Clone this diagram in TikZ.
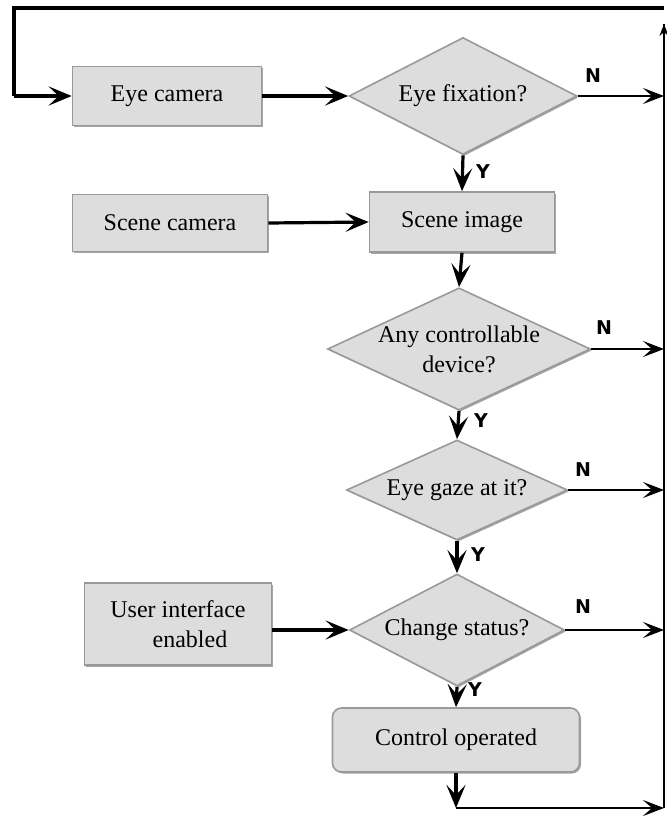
\documentclass[tikz,border=0pt]{standalone}
\usepackage{fontspec}
\setmainfont{Liberation Serif}
\newfontfamily\lblfont{DejaVu Sans}
\usetikzlibrary{shapes.geometric,arrows.meta,shadows}
\definecolor{boxfill}{HTML}{DDDDDD}
\definecolor{boxline}{HTML}{999999}
\begin{document}
\begin{tikzpicture}[x=1pt,y=-1pt,
  base/.style={draw=boxline, line width=1.6pt, fill=boxfill, align=center,
    font=\fontsize{24}{30}\selectfont, inner sep=0pt,
    drop shadow={shadow xshift=1.5pt, shadow yshift=-1.5pt, fill=gray!70, opacity=1}},
  box/.style={base, rectangle},
  rbox/.style={base, rectangle, rounded corners=9pt},
  dec/.style={base, diamond},
  arr/.style={line width=3.2pt, -{Stealth[length=23pt,width=19pt,inset=10pt]}},
  narr/.style={line width=2.6pt, -{Stealth[length=21pt,width=16pt,inset=9pt]}},
  lbl/.style={font=\fontsize{19}{19}\lblfont\bfseries\selectfont, inner sep=0pt},
]
\useasboundingbox (0,0) rectangle (667,820);

% nodes
\node[box, minimum width=189pt, minimum height=59pt] (ec) at (167,96) {Eye camera};
\node[dec, aspect=2, minimum width=228pt, minimum height=117pt] (fix) at (463,96) {Eye fixation?};
\node[box, minimum width=195pt, minimum height=57pt] (sc) at (170,223) {Scene camera};
\node[box, minimum width=185pt, minimum height=60pt] (si) at (462,222) {Scene image};
\node[dec, aspect=2.15, minimum width=252pt, minimum height=118pt] (dev) at (459,349) {Any controllable\\device?};
\node[dec, aspect=2.2, minimum width=221pt, minimum height=100pt] (gaze) at (457,490) {Eye gaze at it?};
\node[dec, aspect=2, minimum width=215pt, minimum height=112pt] (chg) at (457,630) {Change status?};
\node[box, minimum width=187pt, minimum height=82pt] (ui) at (178,624) {User interface\\\quad enabled};
\node[rbox, minimum width=247pt, minimum height=64pt] (co) at (456,740) {Control operated};

% helper coordinates
\coordinate (tl) at (14,8);
\coordinate (tr) at (664,8);
\coordinate (rt) at (664,24);
\coordinate (br) at (664,808);
\coordinate (bm) at (456,808);
\coordinate (lm) at (14,96);
\coordinate (r1) at (664,96);
\coordinate (r2) at (664,349);
\coordinate (r3) at (664,490);
\coordinate (r4) at (664,630);

% loop back
\draw[line width=2pt] (br) -- (rt);
\draw[line width=1.4pt, -{Stealth[length=12pt,width=9pt,inset=4pt]}] (664,40) -- (rt);
\draw[line width=3.4pt, line join=miter] (tr) -- (tl) -- (lm);
\draw[arr] (lm) -- (ec.west);

% main flow
\draw[arr] (ec.east) -- (fix.west);
\draw[arr] (fix.south) -- (si.north);
\draw[arr] (sc.east) -- (si.west);
\draw[arr] (si.south) -- (dev.north);
\draw[arr] (dev.south) -- (gaze.north);
\draw[arr] (gaze.south) -- (chg.north);
\draw[arr] (ui.east |- chg.west) -- (chg.west);
\draw[arr] (chg.south) -- (co.north);
\draw[arr] (co.south) -- (bm);
\draw[narr] (bm) -- (br);

% N exits
\draw[narr] (fix.east) -- (r1);
\draw[narr] (dev.east) -- (r2);
\draw[narr] (gaze.east) -- (r3);
\draw[narr] (chg.east) -- (r4);

% labels
\node[lbl] (n1) at (593,76) {N};
\node[lbl] (n2) at (604,328) {N};
\node[lbl] (n3) at (583,470) {N};
\node[lbl] (n4) at (583,607) {N};
\node[lbl] (y1) at (483,172) {Y};
\node[lbl] (y2) at (481,421) {Y};
\node[lbl] (y3) at (478,555) {Y};
\node[lbl] (y4) at (475,690) {Y};
\end{tikzpicture}
\end{document}
